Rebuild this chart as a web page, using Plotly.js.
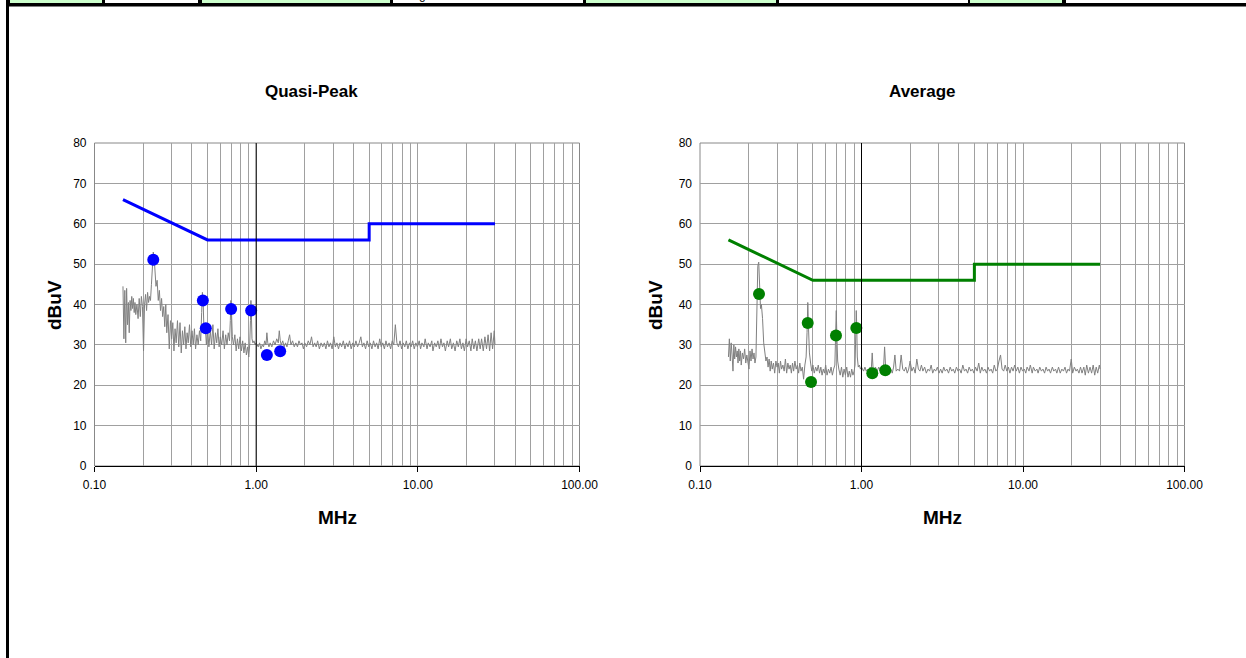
<!DOCTYPE html>
<html>
<head>
<meta charset="utf-8">
<script src="https://cdn.plot.ly/plotly-3.0.1.min.js"></script>
<style>
  html, body { margin: 0; padding: 0; background: #fff; }
  #chart { width: 1246px; height: 658px; }
</style>
</head>
<body>
<div id="chart"></div>
<script>
// ---------------- data ----------------
const scanFreqMHz = [
  0.150,0.152,0.154,0.156,0.158,0.160,0.162,0.164,0.166,0.168,
  0.170,0.172,0.174,0.176,0.178,0.180,0.183,0.186,0.189,0.192,
  0.195,0.198,0.201,0.204,0.207,0.210,0.213,0.216,0.219,0.222,
  0.225,0.228,0.231,0.234,0.237,0.240,0.244,0.248,0.252,0.256,
  0.260,0.264,0.268,0.272,0.276,0.280,0.285,0.290,0.295,0.300,
  0.305,0.310,0.315,0.320,0.326,0.332,0.338,0.344,0.350,0.356,
  0.362,0.368,0.374,0.380,0.387,0.394,0.401,0.408,0.415,0.422,
  0.430,0.438,0.446,0.454,0.460,0.465,0.470,0.476,0.484,0.492,
  0.500,0.510,0.520,0.530,0.540,0.550,0.560,0.570,0.580,0.590,
  0.600,0.612,0.624,0.636,0.648,0.660,0.672,0.684,0.692,0.698,
  0.704,0.712,0.724,0.738,0.752,0.766,0.780,0.795,0.810,0.825,
  0.840,0.855,0.870,0.885,0.900,0.912,0.922,0.928,0.934,0.942,
  0.955,0.970,0.985,1.000,
  1.015,1.03,1.05,1.07,1.09,1.11,1.13,1.15,1.165,1.18,
  1.20,1.22,1.25,1.28,1.31,1.34,1.37,1.39,1.41,1.43,
  1.46,1.49,1.52,1.55,1.58,1.61,1.64,1.68,1.72,1.76,
  1.80,1.84,1.88,1.92,1.96,2.00,2.05,2.10,2.15,2.20,
  2.25,2.30,2.35,2.40,2.46,2.52,2.58,2.64,2.70,2.76,
  2.82,2.88,2.95,3.02,3.09,3.16,3.23,3.30,3.38,3.46,
  3.54,3.62,3.70,3.78,3.87,3.96,4.05,4.14,4.24,4.34,
  4.44,4.54,4.64,4.75,4.86,4.97,5.08,5.20,5.32,5.44,
  5.56,5.68,5.81,5.94,6.07,6.21,6.35,6.49,6.64,6.79,
  6.94,7.10,7.26,7.42,7.59,7.76,7.94,8.12,8.30,8.49,
  8.68,8.88,9.08,9.29,9.50,9.72,9.94,10.2,10.4,10.6,
  10.9,11.1,11.4,11.6,11.9,12.2,12.4,12.7,13.0,13.3,
  13.6,13.9,14.2,14.5,14.8,15.2,15.5,15.9,16.2,16.6,
  17.0,17.4,17.8,18.2,18.6,19.0,19.4,19.9,20.3,20.8,
  21.3,21.7,22.2,22.7,23.2,23.8,24.3,24.8,25.4,26.0,
  26.6,27.2,27.8,28.4,29.0,29.7,30.0
];

const qpScanLevel = [
  44.5,31.5,43.5,30.5,44.0,35.0,40.5,33.0,41.0,38.5,
  42.0,39.0,41.5,38.0,40.5,37.5,40.0,36.5,41.5,37.0,
  42.0,39.5,28.5,40.0,42.5,38.5,43.0,40.5,42.0,41.0,
  45.0,50.0,53.0,51.5,47.0,44.5,46.0,41.0,43.5,38.5,
  41.5,37.0,39.5,34.5,40.0,33.0,37.5,29.0,36.0,31.5,
  35.5,28.5,34.0,30.5,36.0,29.5,35.5,28.0,33.5,30.0,
  34.5,29.0,33.0,30.5,35.0,29.5,33.5,30.0,34.0,29.0,
  32.5,30.0,33.5,31.0,38.0,43.0,40.5,33.0,35.0,30.0,
  34.5,29.5,33.5,30.0,35.0,29.0,33.0,30.5,34.0,29.5,
  32.0,30.0,33.5,29.0,32.5,30.0,33.0,31.0,36.0,41.0,
  38.0,32.0,30.0,32.5,28.5,31.5,29.0,32.0,28.5,31.0,
  28.0,30.5,27.5,29.5,27.0,30.0,36.0,41.0,38.0,31.5,
  30.5,31.0,30.0,30.5,
  30.0,29.5,30.5,29.0,30.0,29.5,31.0,30.0,33.0,30.5,
  29.5,30.5,29.5,31.0,30.0,31.5,30.5,33.5,31.0,30.0,
  31.0,29.5,30.5,29.5,31.0,32.5,30.0,31.0,29.5,30.5,
  29.5,31.0,30.0,30.5,29.0,30.5,29.5,31.0,30.0,32.0,
  29.5,30.5,29.5,31.0,29.0,30.5,29.5,30.5,29.0,31.0,
  29.5,30.5,29.0,32.0,29.5,30.5,29.0,30.5,29.5,31.0,
  29.0,30.5,29.5,31.0,29.0,30.5,29.5,31.0,29.5,30.5,
  32.0,29.5,30.5,29.0,31.0,29.5,30.5,29.0,31.0,29.5,
  30.5,29.0,31.5,29.5,30.5,29.0,31.0,29.5,30.5,29.0,
  31.0,30.0,35.0,30.5,29.5,31.0,29.0,30.5,29.5,31.0,
  29.0,30.5,29.5,31.0,29.0,30.5,29.5,31.0,29.0,30.5,
  29.5,31.5,29.0,30.5,29.5,31.0,28.5,30.5,29.5,31.0,
  29.0,31.5,29.5,30.5,28.5,31.0,29.5,31.5,29.0,30.5,
  28.5,31.0,29.5,31.5,29.0,30.5,28.5,31.5,29.5,31.0,
  28.5,31.5,29.0,31.0,28.5,31.5,29.0,31.5,28.5,32.0,
  29.0,32.5,28.5,33.0,29.0,33.5,30.0
];

const avgScanLevel = [
  27.0,31.5,26.0,30.5,27.5,23.5,30.0,26.5,29.5,27.0,
  28.5,25.5,29.0,26.0,28.5,25.0,28.0,26.5,29.0,25.5,
  27.5,26.0,24.0,28.5,26.0,29.0,26.5,28.0,25.5,27.0,
  44.0,49.5,50.5,46.0,39.0,40.0,36.5,30.5,27.5,26.0,
  27.0,24.5,26.5,23.5,26.0,24.0,25.5,23.0,26.0,24.5,
  25.5,23.0,26.0,24.0,25.0,23.5,26.5,23.0,25.5,24.0,
  25.0,23.0,25.5,23.5,26.0,24.0,25.0,23.0,25.5,23.5,
  24.5,21.5,25.0,27.0,33.0,40.5,34.0,28.0,25.5,23.5,
  25.0,23.0,24.5,23.5,25.0,23.0,24.5,22.5,24.0,23.0,
  25.0,22.5,24.0,23.0,24.5,22.5,24.0,25.0,33.0,38.5,
  32.0,26.0,24.0,22.5,24.5,22.0,24.0,22.5,24.5,22.0,
  23.5,22.0,24.0,22.5,23.5,25.0,33.0,38.5,35.0,27.0,
  24.5,25.0,24.0,24.5,
  24.0,23.5,24.5,23.5,24.0,23.5,24.5,24.0,28.0,24.0,
  23.5,24.5,23.5,24.5,23.5,24.0,24.5,29.5,24.5,23.5,
  24.5,23.5,24.0,23.0,24.5,27.5,23.5,24.0,23.5,27.5,
  24.0,23.5,24.5,23.0,24.0,26.0,23.5,24.5,23.0,26.5,
  24.0,23.5,25.0,23.5,24.5,23.0,24.0,23.5,25.0,23.0,
  24.0,23.5,24.5,23.0,24.0,23.0,24.5,23.5,24.0,23.0,
  24.5,23.5,24.0,23.0,24.5,23.5,24.0,23.0,25.0,23.5,
  24.0,23.0,24.5,23.5,24.0,23.0,24.5,23.5,25.5,23.0,
  24.5,23.5,24.0,23.0,24.5,23.5,24.0,23.0,25.0,23.5,
  24.0,26.0,27.5,24.0,23.5,25.0,23.5,24.5,23.0,24.5,
  23.5,25.0,23.5,24.5,23.0,24.5,23.5,24.0,23.0,24.5,
  23.5,25.0,23.0,24.5,23.5,24.0,23.0,24.5,23.5,24.0,
  23.0,24.5,23.5,24.0,23.0,24.5,23.5,24.0,23.0,24.5,
  23.0,24.0,23.5,24.5,23.0,24.0,23.5,26.5,23.0,24.5,
  23.5,24.0,23.0,24.5,23.0,24.5,22.5,25.0,23.0,24.5,
  23.0,25.0,22.5,24.5,23.0,25.0,24.0
];

const limitFreqMHz = [0.15, 0.5, 5, 5, 30];
const qpLimit  = [66, 56, 56, 60, 60];
const avgLimit = [56, 46, 46, 50, 50];

const qpPeakFreqMHz  = [0.231, 0.468, 0.488, 0.700, 0.931, 1.165, 1.408];
const qpPeakLevel    = [51.1, 41.0, 34.1, 38.9, 38.5, 27.5, 28.4];
const avgPeakFreqMHz = [0.232, 0.4645, 0.487, 0.695, 0.929, 1.166, 1.404];
const avgPeakLevel   = [42.6, 35.4, 20.8, 32.3, 34.2, 23.0, 23.7];

const chartTitles = ['Quasi-Peak', 'Average'];
const xAxisTitle = 'MHz';
const yAxisTitle = 'dBuV';
const xTickVals = [0.1, 1, 10, 100];
const xTickText = ['0.10', '1.00', '10.00', '100.00'];
const xMinorVals = [0.2,0.3,0.4,0.5,0.6,0.7,0.8,0.9, 2,3,4,5,6,7,8,9, 20,30,40,50,60,70,80,90];
const yTickVals = [0, 10, 20, 30, 40, 50, 60, 70, 80];
const topCellFragment = 'g';

// ---------------- layout helpers ----------------
const W = 1246, H = 658;
const px = x => x / W;
const py = y => 1 - y / H;
const FONT = 'Liberation Sans, Arial, sans-serif';
const GRID = '#a0a0a0';

function xAxis(domain) {
  return {
    type: 'log', range: [-1, 2], domain: domain,
    tickmode: 'array', tickvals: xTickVals, ticktext: xTickText,
    showgrid: true, gridcolor: GRID, gridwidth: 1,
    minor: { tickmode: 'array', tickvals: xMinorVals, showgrid: true, gridcolor: GRID, gridwidth: 1, ticks: '' },
    showline: true, linecolor: '#000', linewidth: 1,
    ticks: 'outside', ticklen: 5, tickcolor: '#000', tickwidth: 1, ticklabelstandoff: 3,
    tickfont: { family: FONT, size: 12, color: '#000' },
    zeroline: false, fixedrange: true
  };
}
function yAxis(domain, anchor) {
  return {
    range: [0, 80], domain: domain, anchor: anchor,
    tickmode: 'array', tickvals: yTickVals,
    showgrid: true, gridcolor: GRID, gridwidth: 1,
    showline: false, ticks: '', ticklabelstandoff: 7,
    tickfont: { family: FONT, size: 12, color: '#000' },
    zeroline: false, fixedrange: true
  };
}

const yDom = [py(466), py(143)];
const layout = {
  width: W, height: H,
  margin: { l: 0, r: 0, t: 0, b: 0 },
  paper_bgcolor: '#fff', plot_bgcolor: '#fff',
  showlegend: false,
  xaxis: xAxis([px(94.5), px(579.5)]),
  yaxis: yAxis(yDom, 'x'),
  xaxis2: xAxis([px(700), px(1184.5)]),
  yaxis2: yAxis(yDom, 'x2'),
  shapes: [],
  annotations: []
};
layout.xaxis.anchor = 'y';
layout.xaxis2.anchor = 'y2';

// plot borders, vertical axis at 1 MHz with ticks
[['x', 'y'], ['x2', 'y2']].forEach(([xr, yr]) => {
  layout.shapes.push({ type: 'rect', xref: xr + ' domain', yref: yr + ' domain', x0: 0, x1: 1, y0: 0, y1: 1,
    line: { color: '#888', width: 1 }, layer: 'below' });
  layout.shapes.push({ type: 'line', xref: xr, yref: yr + ' domain', x0: 1, x1: 1, y0: 0, y1: 1,
    line: { color: '#000', width: 1 }, layer: 'above' });
  yTickVals.forEach(v => {
    layout.shapes.push({ type: 'line', xref: xr, yref: yr, xsizemode: 'pixel', xanchor: 1, x0: -5, x1: 0,
      y0: v, y1: v, line: { color: '#000', width: 1 }, layer: 'above' });
  });
});

// titles
const centers = [[311, 337, 54], [922, 942, 655]];
centers.forEach((c, i) => {
  layout.annotations.push({ text: '<b>' + chartTitles[i] + '</b>', xref: 'paper', yref: 'paper',
    x: px(c[0]), y: py(91), xanchor: 'center', yanchor: 'middle', showarrow: false,
    font: { family: FONT, size: 17, color: '#000' } });
  layout.annotations.push({ text: '<b>' + xAxisTitle + '</b>', xref: 'paper', yref: 'paper',
    x: px(c[1]), y: py(517), xanchor: 'center', yanchor: 'middle', showarrow: false,
    font: { family: FONT, size: 19, color: '#000' } });
  layout.annotations.push({ text: '<b>' + yAxisTitle + '</b>', xref: 'paper', yref: 'paper',
    x: px(c[2]), y: py(305), xanchor: 'center', yanchor: 'middle', showarrow: false, textangle: -90,
    font: { family: FONT, size: 19, color: '#000' } });
});

// table strip at the top (spreadsheet frame)
layout.shapes.push({ type: 'rect', xref: 'paper', yref: 'paper', x0: px(6), x1: 1, y0: py(6.5), y1: 1,
  fillcolor: '#000', line: { width: 0 } });
layout.shapes.push({ type: 'rect', xref: 'paper', yref: 'paper', x0: px(6), x1: px(9), y0: 0, y1: 1,
  fillcolor: '#000', line: { width: 0 } });
const cells = [[10, 102, '#ccffcc'], [105, 198, '#fff'], [202, 390, '#ccffcc'], [393, 583, '#fff'],
               [586, 776, '#ccffcc'], [779, 968, '#fff'], [970, 1062, '#ccffcc'], [1066, 1246, '#fff']];
cells.forEach(c => layout.shapes.push({ type: 'rect', xref: 'paper', yref: 'paper',
  x0: px(c[0]), x1: px(c[1]), y0: py(3), y1: 1, fillcolor: c[2], line: { width: 0 } }));

// ---------------- traces ----------------
const traces = [
  { x: scanFreqMHz, y: qpScanLevel, xaxis: 'x', yaxis: 'y', mode: 'lines', line: { color: '#808080', width: 1 }, hoverinfo: 'skip' },
  { x: limitFreqMHz, y: qpLimit, xaxis: 'x', yaxis: 'y', mode: 'lines', line: { color: '#0000ff', width: 3 }, hoverinfo: 'skip' },
  { x: qpPeakFreqMHz, y: qpPeakLevel, xaxis: 'x', yaxis: 'y', mode: 'markers', marker: { color: '#0000ff', size: 12 }, hoverinfo: 'skip' },
  { x: scanFreqMHz, y: avgScanLevel, xaxis: 'x2', yaxis: 'y2', mode: 'lines', line: { color: '#808080', width: 1 }, hoverinfo: 'skip' },
  { x: limitFreqMHz, y: avgLimit, xaxis: 'x2', yaxis: 'y2', mode: 'lines', line: { color: '#008000', width: 3 }, hoverinfo: 'skip' },
  { x: avgPeakFreqMHz, y: avgPeakLevel, xaxis: 'x2', yaxis: 'y2', mode: 'markers', marker: { color: '#008000', size: 12 }, hoverinfo: 'skip' }
];

Plotly.newPlot('chart', traces, layout, { staticPlot: true, displayModeBar: false }).then(() => {
  const d = document.createElement('div');
  d.textContent = topCellFragment;
  d.style.cssText = 'position:absolute;left:419px;top:-11px;font:12px ' + FONT + ';color:#000;line-height:12px;';
  document.body.appendChild(d);
});
</script>
</body>
</html>
